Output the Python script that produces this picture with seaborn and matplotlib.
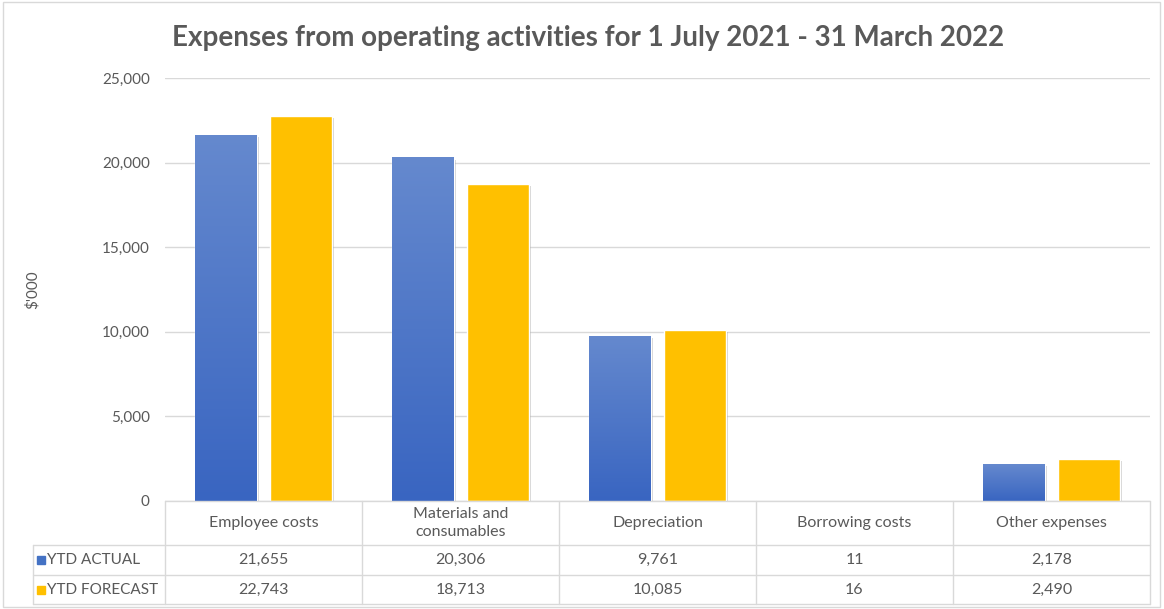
import numpy as np
import pandas as pd
import matplotlib
matplotlib.use("Agg")
import matplotlib.pyplot as plt
import seaborn as sns
from matplotlib.colors import LinearSegmentedColormap
from matplotlib.patches import Rectangle
from matplotlib.lines import Line2D
from matplotlib.ticker import FuncFormatter
import matplotlib.patheffects as pe

title = "Expenses from operating activities for 1 July 2021 - 31 March 2022"
categories = ["Employee costs", "Materials and\nconsumables", "Depreciation",
              "Borrowing costs", "Other expenses"]
series = ["YTD ACTUAL", "YTD FORECAST"]
ytd_actual = [21655, 20306, 9761, 11, 2178]
ytd_forecast = [22743, 18713, 10085, 16, 2490]
yticks = [0, 5000, 10000, 15000, 20000, 25000]
ylabel = "$'000"

sns.set_theme(style="white")
plt.rcParams['font.family'] = ['Lato', 'DejaVu Sans']

df = pd.DataFrame({
    "category": categories * 2,
    "series": [series[0]] * len(categories) + [series[1]] * len(categories),
    "value": ytd_actual + ytd_forecast,
})

W, H = 1164, 609
fig = plt.figure(figsize=(W / 100, H / 100), dpi=100)
fig.patch.set_facecolor("white")
ax = fig.add_axes([165 / W, (H - 501) / H, 985 / W, 423 / H])

BLUE, YELLOW = "#4472C4", "#FFC000"
TXT = "#595959"
GRID = "#D9D9D9"

sns.barplot(data=df, x="category", y="value", hue="series",
            palette=[BLUE, YELLOW], width=0.76, gap=0.18, ax=ax,
            legend=False, saturation=1, zorder=3)

ax.set_xlim(-0.5, len(categories) - 0.5)
ax.set_ylim(0, 25000)

# gradient on blue bars + soft shadow
cmap = LinearSegmentedColormap.from_list("bl", ["#3965C1", "#6589CE"])
grad = np.linspace(0, 1, 256).reshape(-1, 1)
for p in list(ax.patches):
    p.set_path_effects([pe.SimplePatchShadow(offset=(1.5, -1.5), shadow_rgbFace="#808080", alpha=0.35), pe.Normal()])
    fc = p.get_facecolor()
    if abs(fc[2] - 0.77) < 0.05:  # blue bars
        x0, y0, w, h = p.get_x(), p.get_y(), p.get_width(), p.get_height()
        if h <= 0:
            continue
        im = ax.imshow(grad, extent=[x0, x0 + w, y0, y0 + h], origin="lower",
                       cmap=cmap, aspect="auto", zorder=3.5, interpolation="bicubic")
        im.set_clip_path(p)
ax.set_xlim(-0.5, len(categories) - 0.5)
ax.set_ylim(0, 25000)
ax.set_aspect("auto")

ax.set_yticks(yticks)
ax.yaxis.set_major_formatter(FuncFormatter(lambda v, _: f"{int(v):,}"))
ax.tick_params(axis="y", length=0, pad=11, labelsize=11, labelcolor=TXT)
ax.set_xticks(range(len(categories)))
ax.set_xticklabels([])
ax.tick_params(axis="x", length=0)
ax.set_xlabel("")
ax.set_ylabel(ylabel, color=TXT, fontsize=11)
ax.yaxis.set_label_coords((40 - 165) / 985, 0.5)
ax.yaxis.grid(True, color=GRID, lw=1, zorder=0)
ax.set_axisbelow(True)
for s in ax.spines.values():
    s.set_visible(False)

# data table
n = len(categories)
r1 = (501 - 545) / 423
r2 = (501 - 575) / 423
r3 = (501 - 604) / 423
xl = (33 - 165) / 985
T = ax.transAxes
kw = dict(transform=T, color=GRID, lw=1, clip_on=False, zorder=5)
ax.add_line(Line2D([0, 1], [0, 0], **kw))
for yy in (r1, r2, r3):
    ax.add_line(Line2D([xl, 1], [yy, yy], **kw))
ax.add_line(Line2D([xl, xl], [r1, r3], **kw))
for i in range(n + 1):
    ax.add_line(Line2D([i / n, i / n], [0, r3], **kw))

FS = 11.5
for i, c in enumerate(categories):
    xc = (i + 0.5) / n
    ax.text(xc, r1 / 2, c, transform=T, ha="center", va="center",
            fontsize=FS, color=TXT, clip_on=False, linespacing=1.45)
    ax.text(xc, (r1 + r2) / 2, f"{ytd_actual[i]:,}", transform=T, ha="center",
            va="center", fontsize=FS, color=TXT, clip_on=False)
    ax.text(xc, (r2 + r3) / 2, f"{ytd_forecast[i]:,}", transform=T, ha="center",
            va="center", fontsize=FS, color=TXT, clip_on=False)

for yy, lab, col in (((r1 + r2) / 2, series[0], BLUE), ((r2 + r3) / 2, series[1], YELLOW)):
    ax.add_line(Line2D([(41 - 165) / 985], [yy], marker="s", markersize=5.5,
                       color=col, transform=T, clip_on=False, lw=0))
    ax.text((47 - 165) / 985, yy, lab, transform=T, ha="left", va="center",
            fontsize=11, color=TXT, clip_on=False)

fig.text(588 / W, 1 - 38 / H, title, ha="center", va="center",
         fontsize=20, fontweight="bold", color=TXT)

fig.patches.append(Rectangle((3 / W, 2 / H), 1157 / W, 605 / H, transform=fig.transFigure,
                             fill=False, ec=GRID, lw=1))

fig.savefig("out.png", dpi=100)
